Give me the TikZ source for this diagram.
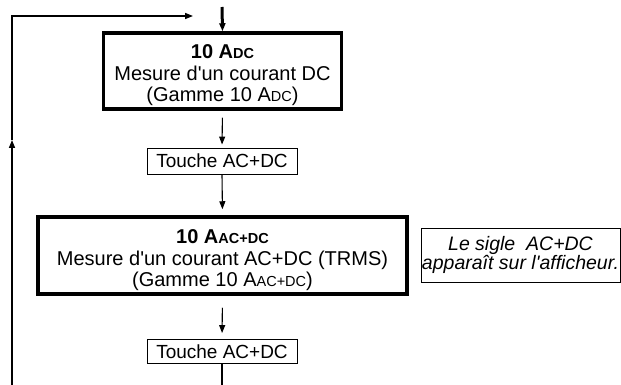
\documentclass[tikz,border=0pt]{standalone}
\usepackage{fontspec}
\setmainfont{Liberation Sans}[Ligatures=TeXOff]
\usetikzlibrary{arrows.meta}

\newcommand{\petit}[1]{{\fontsize{14.5}{14.5}\selectfont #1}}

\tikzset{
  grosbloc/.style={draw, line width=3.5pt, inner sep=0pt},
  texte/.style={align=center, inner sep=0pt, font=\fontsize{20}{21}\selectfont},
  touche/.style={draw, line width=0.9pt, minimum width=150pt, minimum height=26pt,
    inner sep=1pt, font=\fontsize{19}{20}\selectfont},
  note/.style={draw, line width=0.9pt, align=center, minimum width=199pt,
    minimum height=54pt, inner sep=1pt, font=\fontsize{19.5}{18.5}\selectfont\itshape},
  fleche/.style={line width=1.1pt, -{Triangle[length=8pt,width=6pt]}},
}

\begin{document}
\begin{tikzpicture}[x=1pt,y=-1pt]
\useasboundingbox (0,0) rectangle (621,385);

\node[grosbloc, minimum width=238pt, minimum height=76pt] (dc) at (222.5,71) {};
\node[texte] (dc-txt) at ([yshift=-4pt]dc.center)
  {\textbf{10 A\petit{DC}}\\[1pt]Mesure d'un courant DC\\(Gamme 10 A\petit{DC})};
\node[touche] (t1) at (222,161) {Touche AC+DC};
\node[grosbloc, minimum width=369pt, minimum height=77pt] (acdc) at (222.5,255.5) {};
\node[texte] (acdc-txt) at ([yshift=-5pt]acdc.center)
  {\textbf{10 A\petit{AC+DC}}\\[1pt]Mesure d'un courant AC+DC (TRMS)\\(Gamme 10 A\petit{AC+DC})};
\node[note] (sigle) at (520.5,255) {Le sigle\ \ AC+DC\\apparaît sur l'afficheur.};
\node[touche, minimum height=24pt] (t2) at (222,351.5) {Touche AC+DC};

\coordinate (haut) at (222,7);
\coordinate (bas) at (222,385);
\coordinate (g1) at (12,385);
\coordinate (g2) at (12,140);
\coordinate (g3) at (12,16);
\coordinate (g4) at (193,16);

%-------------------------------------
\draw[fleche, line width=3pt] (haut) -- (dc.north);
\draw[fleche, shorten <=7pt, shorten >=3pt] (dc.south) -- (t1.north);
\draw[fleche, shorten >=6pt] (t1.south) -- (acdc.north);
\draw[fleche, shorten <=12pt, shorten >=6pt] (acdc.south) -- (t2.north);
\draw[line width=1.1pt] (t2.south) -- (bas);

%\draw boucle de retour
\draw[fleche, line width=1.5pt] (g1) -- (g2);
\draw[fleche, line width=1.5pt] (g2) -- (g3) -- (g4);
\end{tikzpicture}
\end{document}
